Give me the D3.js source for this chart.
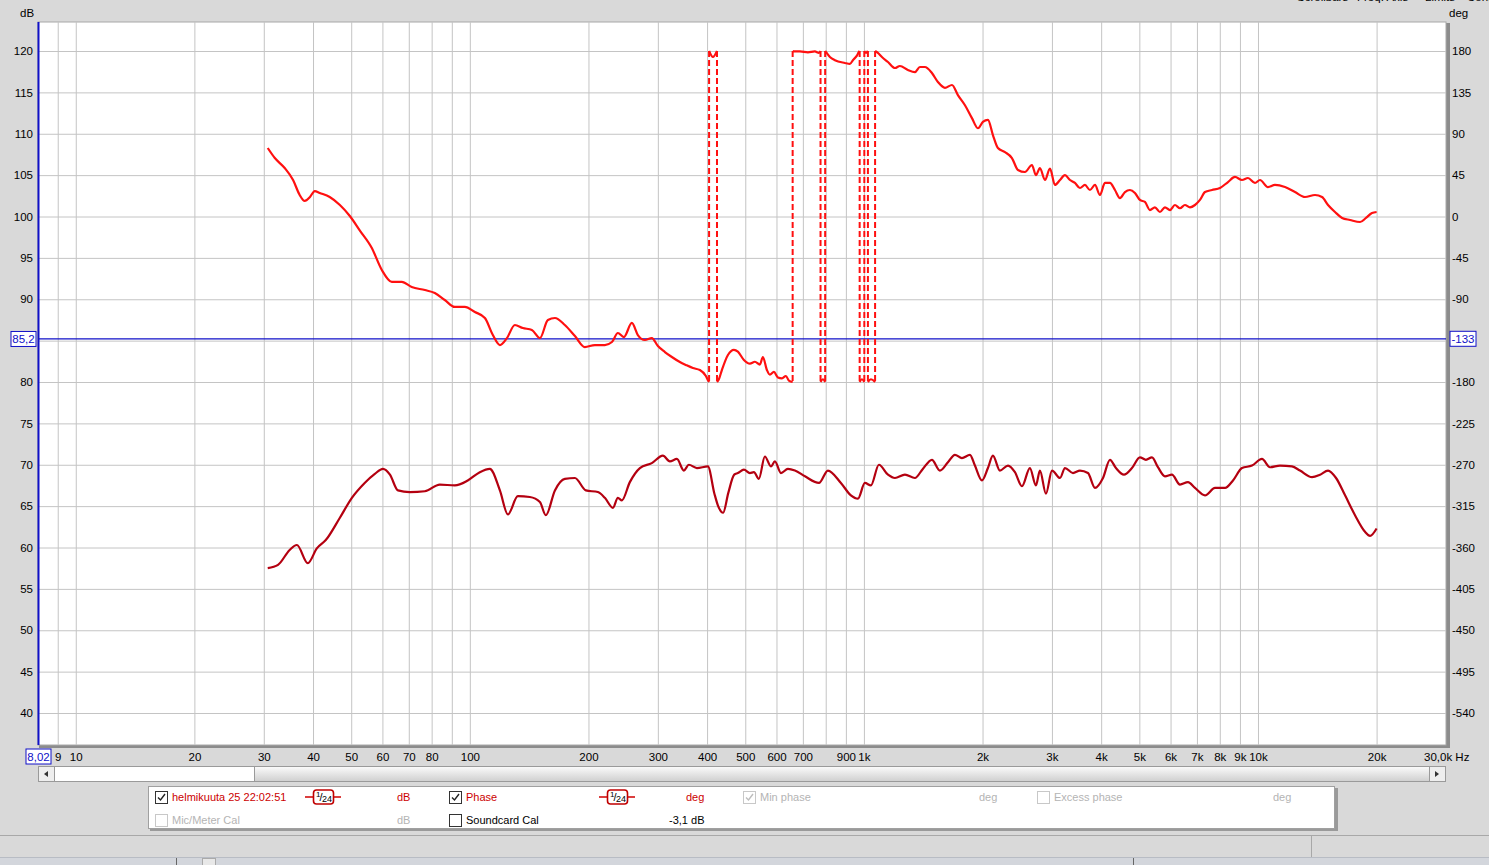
<!DOCTYPE html>
<html><head><meta charset="utf-8">
<script src="https://cdn.jsdelivr.net/npm/d3@7"></script>
<style>
body{margin:0;background:#d9d9d9;overflow:hidden}
svg{display:block;font-family:"Liberation Sans",Arial,sans-serif;font-size:11px}
</style></head><body>
<svg id="c" width="1489" height="865"></svg>
<script>
// ---------- DATA ----------
const splFreq = [30.7,32.6,34.9,36.4,38.8,40.9,43.1,46.8,50.2,54.1,57.4,60.2,62.7,65.7,70.4,76.9,83.9,91.6,98.8,106,112.4,119.2,124.9,132.4,142,150.6,155.9,164.4,174.2,184.8,197,211.3,220.1,230.7,237.5,243.1,254.7,270.1,289.6,308.9,321.8,335.3,349.2,359.6,376.9,401.9,417.5,426,439.2,452.8,468.7,478.9,496,513.7,525.9,541.3,560.7,580.8,594.5,615.8,641.4,668.3,708.7,769,810.3,874.2,926.8,965.6,1005.9,1041.8,1091.6,1151,1199,1271,1347,1411,1488,1559,1634,1702,1773,1858,1913,1993,2064,2125,2214,2321,2417,2518,2638,2732,2797,2897,3001,3145,3238,3393,3534,3703,3858,4043,4211,4361,4570,4788,5017,5196,5383,5574,5807,6048,6340,6643,6920,7338,7781,8248,8642,9108,9656,10236,10728,11370,12198,12781,13713,14370,15057,15780,16633,17630,18690,19245,20000];
const splDb = [57.5,57.9,59.7,60.3,58.1,59.9,60.9,63.6,66,67.8,68.9,69.5,68.8,66.9,66.7,66.8,67.6,67.5,68.1,69.1,69.5,66.9,64,66.2,66.1,65.5,63.9,66.9,68.3,68.4,66.9,66.7,66.0,64.8,66.0,65.7,67.9,69.6,70.2,71.1,70.4,70.7,69.3,70.0,69.6,69.8,66.5,65.1,64.2,66.6,68.8,69.0,69.4,69.0,69.1,68.3,71.0,69.8,70.4,69.0,69.5,69.3,68.6,67.8,69.3,67.8,66.3,65.9,67.8,67.5,70.0,68.8,68.4,68.8,68.4,69.5,70.6,69.3,70.3,71.2,70.8,71.2,69.9,68.1,69.6,71.1,69.3,69.9,69.1,67.4,69.6,67.5,69.3,66.5,69.3,68.4,69.6,69,69.3,69,67.2,68.4,70.6,69.6,68.8,69.6,70.9,70.6,70.9,69.7,68.6,68.8,67.6,67.9,67.2,66.3,67.2,67.2,68.1,69.6,69.9,70.7,69.7,69.9,69.8,69.3,68.5,68.8,69.3,68.4,66.3,63.9,61.9,61.4,62.3];

const phaseFreq = [30.7,32.0,33.9,35.6,37.0,38.1,39.3,40.4,41.6,44.1,46.8,49.6,52.6,56.4,59.8,63.4,67.2,71.2,76.9,81.5,86.4,91.6,97.1,103,109.2,114.4,119.2,124.2,130.1,136.3,143.7,150.6,157.8,164.4,174.2,184.8,195.8,207.6,220.1,229.4,237.5,246,257.7,266.9,278.1,289.6,300.1,312.6,325.6,341.2,353.4,368.1,383.5,397.2,401.9,413.9,428.5,436.1,451.8,467.9,478.9,496,513.7,528.9,544.5,554.2,567.4,577.3,591,604.9,619.5,633.9,645.1,664.3,688,721,751,769,787,800.9,819.8,844.1,894.8,921.4,937.7,960,971.2,988.4,1011.8,1041.8,1085,1111,1151,1199,1234,1293,1347,1387,1428,1488,1541,1606,1673,1732,1805,1880,1947,2004,2064,2125,2188,2280,2375,2460,2563,2669,2732,2797,2880,2966,3054,3145,3238,3334,3432,3534,3638,3746,3858,3972,4089,4211,4336,4464,4597,4733,4873,5017,5166,5319,5476,5639,5807,5978,6155,6340,6526,6720,6920,7125,7338,7642,8010,8393,8743,9108,9432,9826,10117,10603,11044,11710,12415,13161,13954,14540,15057,15687,16344,17127,18157,18797,19468,20000];
const phaseDeg = [74.5,63.6,52.7,39.7,23.4,16.9,21.2,27.7,25.6,21.2,12.5,0.5,-15.3,-34.3,-58.2,-71.2,-71.2,-76.7,-80,-83.2,-90.8,-98.4,-98.4,-103.9,-110.4,-128.9,-139.8,-132.2,-118,-121.3,-123.5,-132.2,-112.6,-110.4,-118,-130,-142,-139.8,-139.8,-136.5,-126.7,-131.1,-115.8,-128.9,-134.3,-132.2,-140.9,-147.4,-152.8,-158.3,-161.5,-164.8,-167,-173.5,-178,173.5,-177,-167,-150.6,-145,-147,-156,-160,-158,-161,-152.8,-167,-172,-169,-175,-176,-173.5,-178.5,179.5,179.5,178.5,179.5,178,-177,179,173.5,170,167,166,170,175,179,-177,178,-177,178,173.5,168,161.5,163.7,159.3,157,162.6,162.6,156,146.3,140,143,132,121,107,96,102.8,105,88.6,74.5,70,63.6,50.6,48.4,56,45,52.7,39.7,52,34.3,39.7,45,39.7,36.5,31,34.3,28.8,34.3,23.4,36.5,36.5,28.8,20,26.6,28.8,25.6,18,15.8,7,10,4.9,10,7,12.5,9,12.5,10,12.5,18,26.6,28.8,31,37.5,43,39.7,41.9,36.5,39.7,32,34.3,32,26.6,21.2,23.4,21.2,12.5,4.9,-1.6,-3.8,-6,-1.6,3.8,4.9];

const dbTicks = [40,45,50,55,60,65,70,75,80,85,90,95,100,105,110,115,120];
const degTicks = [-540,-495,-450,-405,-360,-315,-270,-225,-180,-135,-90,-45,0,45,90,135,180];
const freqGrid = [9,10,20,30,40,50,60,70,80,90,100,200,300,400,500,600,700,800,900,1000,2000,3000,4000,5000,6000,7000,8000,9000,10000,20000];
const freqTickValues = [9,10,20,30,40,50,60,70,80,100,200,300,400,500,600,700,900,1000,2000,3000,4000,5000,6000,7000,8000,9000,10000,20000];
const freqTickLabels = ["9","10","20","30","40","50","60","70","80","100","200","300","400","500","600","700","900","1k","2k","3k","4k","5k","6k","7k","8k","9k","10k","20k"];
const cursorFreq = 8.02, cursorDb = 85.2, cursorDeg = -133;

// ---------- SCALES ----------
const P = {l:38, r:1446, t:22, b:745};
const x = d3.scaleLog().domain([8.02, 30000]).range([P.l, P.r]);
const yDb = d3.scaleLinear().domain([40,120]).range([713,51]);
const yDeg = d3.scaleLinear().domain([-540,180]).range([713,51]);

const svg = d3.select("#c");
const defs = svg.append("defs");
defs.append("clipPath").attr("id","clip").append("rect")
  .attr("x",P.l).attr("y",P.t).attr("width",P.r-P.l).attr("height",P.b-P.t);
const g1 = defs.append("linearGradient").attr("id","sb").attr("x1",0).attr("y1",0).attr("x2",0).attr("y2",1);
g1.append("stop").attr("offset","0").attr("stop-color","#fbfbfb");
g1.append("stop").attr("offset","1").attr("stop-color","#cfcfcf");

svg.append("rect").attr("width",1489).attr("height",865).attr("fill","#d9d9d9");

// plot shadow + area
svg.append("rect").attr("x",P.l+1).attr("y",P.t+1).attr("width",P.r-P.l+3).attr("height",P.b-P.t+2).attr("fill","#8c8c8c");
svg.append("rect").attr("x",P.l).attr("y",P.t).attr("width",P.r-P.l).attr("height",P.b-P.t).attr("fill","#fff").attr("stroke","#a8a8a8");

// grid
const grid = svg.append("g").attr("clip-path","url(#clip)");
grid.append("g").attr("transform",`translate(0,${P.b})`)
  .call(d3.axisBottom(x).tickValues(freqGrid).tickSize(-(P.b-P.t)).tickFormat(""))
  .call(g=>{g.select(".domain").remove(); g.selectAll("line").attr("stroke","#c4c4c4");});
grid.append("g").attr("transform",`translate(${P.l},0)`)
  .call(d3.axisLeft(yDb).tickValues(dbTicks).tickSize(-(P.r-P.l)).tickFormat(""))
  .call(g=>{g.select(".domain").remove(); g.selectAll("line").attr("stroke","#c4c4c4");});

// axes labels
svg.append("g").attr("transform",`translate(${P.l},0)`)
  .call(d3.axisLeft(yDb).tickValues(dbTicks.filter(d=>d!==85)).tickSize(0).tickPadding(5).tickFormat(d=>String(d)))
  .call(g=>{g.select(".domain").remove(); g.selectAll("text").attr("fill","#000").style("font-size","11.5px").style("font-family","Liberation Sans, Arial");});
svg.append("g").attr("transform",`translate(${P.r},0)`)
  .call(d3.axisRight(yDeg).tickValues(degTicks.filter(d=>d!==-135)).tickSize(0).tickPadding(6).tickFormat(d=>String(d)))
  .call(g=>{g.select(".domain").remove(); g.selectAll("text").attr("fill","#000").style("font-size","11.5px").style("font-family","Liberation Sans, Arial");});
svg.append("g").attr("transform",`translate(0,${P.b})`)
  .call(d3.axisBottom(x).tickValues(freqTickValues).tickSize(0).tickPadding(7.5).tickFormat((d,i)=>freqTickLabels[i]))
  .call(g=>{g.select(".domain").remove(); g.selectAll("text").attr("fill","#000").style("font-size","11.5px").style("font-family","Liberation Sans, Arial");});

svg.append("text").attr("x",1424).attr("y",761).attr("fill","#000").style("font-size","11.5px").text("30,0k Hz");
svg.append("text").attr("x",20).attr("y",17).attr("fill","#000").style("font-size","11.5px").text("dB");
svg.append("text").attr("x",1449).attr("y",17).attr("fill","#000").style("font-size","11.5px").text("deg");
// top menu (cut off at the window edge, as in the reference)
[["Scrollbars",1297],["Freq. Axis",1357],["Limits",1425],["Controls",1467]].forEach(([t,px])=>
  svg.append("text").attr("x",px).attr("y",1).attr("fill","#000").style("font-size","11.5px").text(t));

// cursor lines
svg.append("line").attr("x1",P.l).attr("x2",P.r).attr("y1",yDb(cursorDb)).attr("y2",yDb(cursorDb)).attr("stroke","#1010c8").attr("stroke-width",1.2);
svg.append("line").attr("x1",x(cursorFreq)+0.5).attr("x2",x(cursorFreq)+0.5).attr("y1",P.t).attr("y2",P.b).attr("stroke","#1010c8").attr("stroke-width",2);

// ---------- CURVES ----------
const curves = svg.append("g").attr("clip-path","url(#clip)");
const lineDb = d3.line().x(d=>x(d[0])).y(d=>yDb(d[1])).curve(d3.curveMonotoneX);
const lineDeg = d3.line().x(d=>x(d[0])).y(d=>yDeg(d[1])).curve(d3.curveMonotoneX);

curves.append("path").datum(splFreq.map((f,i)=>[f,splDb[i]]))
  .attr("d",lineDb).attr("fill","none").attr("stroke","#b40010").attr("stroke-width",2.2).attr("stroke-linejoin","round");

// phase with wrap handling
function wrapSegments(fs, vs){
  const segs=[], wraps=[]; let cur=[[fs[0],vs[0]]];
  for(let i=1;i<fs.length;i++){
    const a=vs[i-1], b=vs[i], d=b-a;
    if(Math.abs(d)>180){
      const bu = d>0 ? b-360 : b+360, edge = d>0 ? -180 : 180;
      const t=(edge-a)/(bu-a);
      const f=Math.exp(Math.log(fs[i-1])+t*(Math.log(fs[i])-Math.log(fs[i-1])));
      cur.push([f,edge]); segs.push(cur); wraps.push(f);
      cur=[[f,-edge]];
    }
    cur.push([fs[i],b]);
  }
  segs.push(cur);
  return {segs,wraps};
}
const ph = wrapSegments(phaseFreq, phaseDeg);
curves.selectAll("line.wrap").data(ph.wraps).join("line").attr("class","wrap")
  .attr("x1",d=>x(d)).attr("x2",d=>x(d)).attr("y1",yDeg(180)).attr("y2",yDeg(-180))
  .attr("stroke","#ff1010").attr("stroke-width",2).attr("stroke-dasharray","6,3");
curves.selectAll("path.ph").data(ph.segs).join("path").attr("class","ph")
  .attr("d",d=>d.length>1?lineDeg(d):null).attr("fill","none").attr("stroke","#ff1010").attr("stroke-width",2.2).attr("stroke-linejoin","round");

// cursor boxes
function box(cx,cy,w,txt){
  svg.append("rect").attr("x",cx).attr("y",cy).attr("width",w).attr("height",15).attr("fill","#fff").attr("stroke","#1010c8");
  svg.append("text").attr("x",cx+w/2).attr("y",cy+11.5).attr("text-anchor","middle").attr("fill","#1010c8").style("font-size","11.5px").text(txt);
}
box(11,yDb(cursorDb)-7.5,25,"85,2");
box(1450,yDeg(cursorDeg)-7.5,26,String(cursorDeg));
box(26,749,25,"8,02");

// ---------- SCROLLBAR ----------
svg.append("rect").attr("x",38.5).attr("y",766.5).attr("width",1407).attr("height",15).attr("fill","url(#sb)").attr("stroke","#9a9a9a");
svg.append("rect").attr("x",54.5).attr("y",766.5).attr("width",200).attr("height",15).attr("fill","#fff").attr("stroke","#9a9a9a");
svg.append("rect").attr("x",38.5).attr("y",766.5).attr("width",16).attr("height",15).attr("fill","#eee").attr("stroke","#9a9a9a");
svg.append("rect").attr("x",1429.5).attr("y",766.5).attr("width",16).attr("height",15).attr("fill","#eee").attr("stroke","#9a9a9a");
svg.append("path").attr("d","M48,771 L44,774 L48,777 Z").attr("fill","#333");
svg.append("path").attr("d","M1435,771 L1439,774 L1435,777 Z").attr("fill","#333");

// ---------- LEGEND PANEL ----------
svg.append("rect").attr("x",150).attr("y",788).attr("width",1188).attr("height",43).attr("fill","#9a9a9a");
svg.append("rect").attr("x",148.5).attr("y",786.5).attr("width",1186).attr("height",42).attr("fill","#fff").attr("stroke","#a0a0a0");

function checkbox(px,py,checked,grey){
  svg.append("rect").attr("x",px+0.5).attr("y",py+0.5).attr("width",12).attr("height",12).attr("fill","#fff").attr("stroke",grey?"#c8c8c8":"#333");
  if(checked) svg.append("path").attr("d",`M${px+3},${py+6.5} L${px+5.5},${py+9} L${px+10},${py+3}`).attr("fill","none").attr("stroke",grey?"#bdbdbd":"#222").attr("stroke-width",1.4);
}
function label(px,py,txt,col){
  svg.append("text").attr("x",px).attr("y",py).attr("fill",col).style("font-size","11px").style("font-family","Liberation Sans, Arial").text(txt);
}
function smooth(px,cy){
  svg.append("path").attr("d",`M${px},${cy} H${px+9} M${px+28},${cy} H${px+36}`).attr("stroke","#d00000").attr("stroke-width",1.6);
  svg.append("rect").attr("x",px+8.5).attr("y",cy-7).attr("width",20).attr("height",14).attr("rx",3).attr("fill","#fff").attr("stroke","#c00000").attr("stroke-width",1.6);
  svg.append("text").attr("x",px+11).attr("y",cy-0.5).style("font-size","8px").attr("fill","#000").text("1");
  svg.append("text").attr("x",px+14.5).attr("y",cy+4).style("font-size","11px").attr("fill","#000").text("/");
  svg.append("text").attr("x",px+17).attr("y",cy+5).style("font-size","9px").attr("fill","#000").text("24");
}
const red="#cc0000", grey="#b4b4b4";
checkbox(155,791,true,false); label(172,801,"helmikuuta 25 22:02:51",red); smooth(305,797); label(397,801,"dB",red);
checkbox(449,791,true,false); label(466,801,"Phase",red); smooth(599,797); label(686,801,"deg",red);
checkbox(743,791,true,true); label(760,801,"Min phase",grey); label(979,801,"deg",grey);
checkbox(1037,791,false,true); label(1054,801,"Excess phase",grey); label(1273,801,"deg",grey);
checkbox(155,814,false,true); label(172,824,"Mic/Meter Cal",grey); label(397,824,"dB",grey);
checkbox(449,814,false,false); label(466,824,"Soundcard Cal","#000"); label(669,824,"-3,1 dB","#000");

// ---------- BOTTOM CHROME ----------
svg.append("line").attr("x1",0).attr("x2",1489).attr("y1",835.5).attr("y2",835.5).attr("stroke","#a8a8a8");
svg.append("line").attr("x1",1311.5).attr("x2",1311.5).attr("y1",836).attr("y2",857).attr("stroke","#a8a8a8");
svg.append("rect").attr("x",0).attr("y",857).attr("width",1489).attr("height",8).attr("fill","#d3d6dc");
svg.append("line").attr("x1",0).attr("x2",1489).attr("y1",857.5).attr("y2",857.5).attr("stroke","#b8bcc4");
[176.5,1133.5].forEach(v=>svg.append("line").attr("x1",v).attr("x2",v).attr("y1",858).attr("y2",865).attr("stroke","#666"));
svg.append("rect").attr("x",202.5).attr("y",858.5).attr("width",13).attr("height",8).attr("fill","#e8e8e8").attr("stroke","#aaa");
</script></body></html>
